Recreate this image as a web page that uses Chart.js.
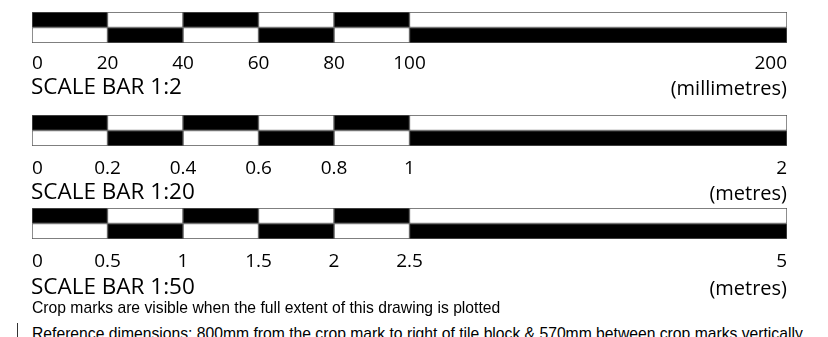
<!DOCTYPE html>
<html>
<head>
<meta charset="utf-8">
<script src="https://cdn.jsdelivr.net/npm/chart.js@4.4.1/dist/chart.umd.min.js"></script>
<style>
  html, body { margin: 0; padding: 0; background: #fff; }
  #wrap { position: relative; width: 828px; height: 337px; overflow: hidden; background: #fff; }
  canvas { position: absolute; left: 0; }
  .cap { position: absolute; font-family: 'Open Sans', sans-serif; color: #000; white-space: nowrap; }
  .left { left: 31px; font-size: 22.5px; line-height: 22px; }
  .right { right: 41px; text-align: right; font-size: 20px; line-height: 20px; }
  .note { position: absolute; left: 32px; font-family: 'Liberation Sans', Arial, sans-serif; font-size: 15.7px; line-height: 16px; color: #000; white-space: nowrap; }
  #crop { position: absolute; left: 17px; top: 323px; width: 1px; height: 15px; background: #333; }
</style>
</head>
<body>
<div id="wrap">
  <canvas id="bar1" width="828" height="75" style="top:8px"></canvas>
  <canvas id="bar2" width="828" height="75" style="top:111px"></canvas>
  <canvas id="bar3" width="828" height="75" style="top:204px"></canvas>

  <div class="cap left" style="top:75px">SCALE BAR 1:2</div>
  <div class="cap right" style="top:78px">(millimetres)</div>
  <div class="cap left" style="top:180px">SCALE BAR 1:20</div>
  <div class="cap right" style="top:183px">(metres)</div>
  <div class="cap left" style="top:275px">SCALE BAR 1:50</div>
  <div class="cap right" style="top:278px">(metres)</div>

  <div class="note" style="top:300px">Crop marks are visible when the full extent of this drawing is plotted</div>
  <div class="note" style="top:326px">Reference dimensions: 800mm from the crop mark to right of tile block &amp; 570mm between crop marks vertically</div>
  <div id="crop"></div>
</div>
<script>
// tick positions of each scale bar (also the segment edges)
const ticksMm = [0, 20, 40, 60, 80, 100, 200];
const ticksM20 = [0, 0.2, 0.4, 0.6, 0.8, 1, 2];
const ticksM50 = [0, 0.5, 1, 1.5, 2, 2.5, 5];
const rows = ['upper', 'lower'];

const BLACK = '#000';
const WHITE = '#fff';

function buildSegments(t) {
  const sets = [];
  for (let i = 0; i < t.length - 1; i++) {
    const seg = [t[i], t[i + 1]];
    sets.push({
      data: [seg, seg],
      // upper row starts black, lower row starts white
      backgroundColor: i % 2 === 0 ? [BLACK, WHITE] : [WHITE, BLACK],
      borderColor: '#555',
      borderWidth: 1,
      borderSkipped: false,
      barPercentage: 1,
      categoryPercentage: 1,
      grouped: false
    });
  }
  return sets;
}

function makeScaleBar(id, t, pad) {
  new Chart(document.getElementById(id), {
    type: 'bar',
    data: { labels: rows, datasets: buildSegments(t) },
    options: {
      indexAxis: 'y',
      responsive: false,
      animation: false,
      events: [],
      layout: { padding: { left: 32, right: 41, top: 4, bottom: 0 } },
      plugins: { legend: { display: false }, tooltip: { enabled: false } },
      scales: {
        x: {
          type: 'linear',
          min: 0,
          max: t[t.length - 1],
          grid: { display: false, drawTicks: false },
          border: { display: false },
          afterBuildTicks: s => { s.ticks = t.map(v => ({ value: v })); },
          afterFit: s => { s.height = 40; },
          ticks: {
            align: 'inner',
            padding: pad,
            autoSkip: false,
            maxRotation: 0,
            color: '#000',
            font: { family: 'Open Sans', size: 19 },
            callback: v => String(v)
          }
        },
        y: { display: false }
      }
    }
  });
}

makeScaleBar('bar1', ticksMm, 9);
makeScaleBar('bar2', ticksM20, 11);
makeScaleBar('bar3', ticksM50, 11);
</script>
</body>
</html>
